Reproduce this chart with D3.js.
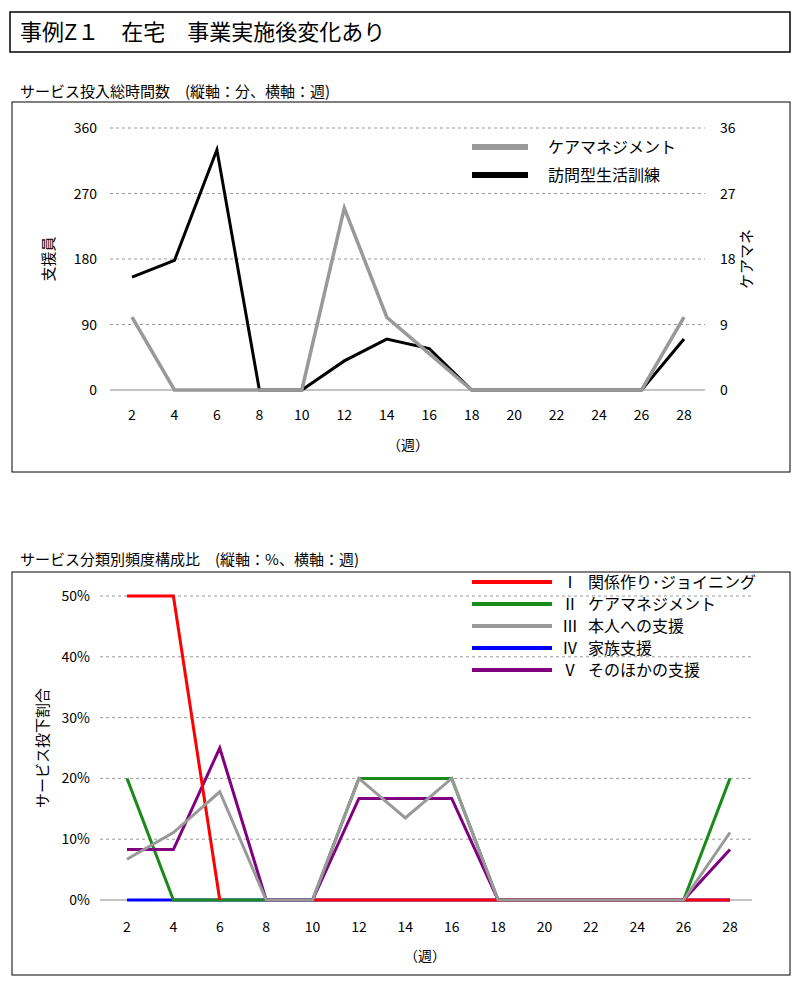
<!DOCTYPE html>
<html><head><meta charset="utf-8">
<script src="https://cdn.jsdelivr.net/npm/d3@7"></script>
<style>body{margin:0;background:#fff;font-family:"Noto Sans CJK JP",sans-serif;}</style>
</head><body>
<svg id="c" width="800" height="1000"></svg>
<script>
// data
const weeks = [2,4,6,8,10,12,14,16,18,20,22,24,26,28];
const careMgmt = [10,0,0,0,0,25,10,5,0,0,0,0,0,10];        // right axis (ケアマネ)
const lifeTraining = [155,178,330,0,0,40,70,57,0,0,0,0,0,70]; // left axis (支援員)
const leftTicks = [0,90,180,270,360];
const rightTicks = [0,9,18,27,36];

const catI = [50,50,0,null,0,0,0,0,0,0,0,0,0,0];
const catII = [20,0,0,0,0,20,20,20,0,0,0,0,0,20];
const catIII = [6.7,11.1,17.8,0,0,20,13.5,20,0,0,0,0,0,11.1];
const catIV = [0,0,0,0,0,0,0,0,0,0,0,0,0,0];
const catV = [8.3,8.3,25,0,0,16.7,16.7,16.7,0,0,0,0,0,8.3];
const pctTicks = [0,10,20,30,40,50];

const svg = d3.select("#c");
const font = "'Noto Sans CJK JP', sans-serif";

// title box
svg.append("rect").attr("x",10).attr("y",12).attr("width",780).attr("height",40)
  .attr("fill","none").attr("stroke","#000").attr("stroke-width",1.5);
svg.append("text").attr("x",20).attr("y",40).attr("font-size",22).attr("font-family",font)
  .text("事例Z１　在宅　事業実施後変化あり");

// ---------- top chart ----------
svg.append("text").attr("x",20).attr("y",97).attr("font-size",15).attr("font-family",font)
  .text("サービス投入総時間数　(縦軸：分、横軸：週)");
svg.append("rect").attr("x",12).attr("y",102).attr("width",778).attr("height",370)
  .attr("fill","none").attr("stroke","#000");

const x1 = d3.scaleLinear().domain([2,28]).range([132,684]);
const yL = d3.scaleLinear().domain([0,360]).range([390,128]);
const yR = d3.scaleLinear().domain([0,36]).range([390,128]);

const topG = svg.append("g");
topG.selectAll(".g1").data(leftTicks.slice(1)).enter().append("line")
  .attr("x1",110).attr("x2",705).attr("y1",d=>yL(d)).attr("y2",d=>yL(d))
  .attr("stroke","#999").attr("stroke-dasharray","3,3");
topG.append("line").attr("x1",110).attr("x2",705).attr("y1",yL(0)).attr("y2",yL(0)).attr("stroke","#888");
topG.selectAll(".tl").data(leftTicks).enter().append("text")
  .attr("x",97).attr("y",d=>yL(d)+5).attr("text-anchor","end").attr("font-size",14).attr("font-family",font).text(d=>d);
topG.selectAll(".tr").data(rightTicks).enter().append("text")
  .attr("x",720).attr("y",d=>yR(d)+5).attr("font-size",14).attr("font-family",font).text(d=>d);
topG.selectAll(".tx").data(weeks).enter().append("text")
  .attr("x",d=>x1(d)).attr("y",420).attr("text-anchor","middle").attr("font-size",14).attr("font-family",font).text(d=>d);
topG.append("text").attr("x",408).attr("y",450).attr("text-anchor","middle").attr("font-size",14).attr("font-family",font).text("（週）");
topG.append("text").attr("transform","translate(54,259) rotate(-90)").attr("text-anchor","middle")
  .attr("font-size",15).attr("font-family",font).text("支援員");
topG.append("text").attr("transform","translate(752,259) rotate(-90)").attr("text-anchor","middle")
  .attr("font-size",15).attr("font-family",font).text("ケアマネ");

const lineL = d3.line().x((d,i)=>x1(weeks[i])).y(d=>yL(d));
const lineR = d3.line().x((d,i)=>x1(weeks[i])).y(d=>yR(d));
topG.append("path").attr("d",lineL(lifeTraining)).attr("fill","none").attr("stroke","#000").attr("stroke-width",3);
topG.append("path").attr("d",lineR(careMgmt)).attr("fill","none").attr("stroke","#999").attr("stroke-width",3.5);

[["ケアマネジメント","#999",147],["訪問型生活訓練","#000",175]].forEach(([t,c,y])=>{
  topG.append("line").attr("x1",472).attr("x2",528).attr("y1",y).attr("y2",y).attr("stroke",c).attr("stroke-width",6);
  topG.append("text").attr("x",548).attr("y",y+6).attr("font-size",16).attr("font-family",font).text(t);
});

// ---------- bottom chart ----------
svg.append("text").attr("x",20).attr("y",565).attr("font-size",15).attr("font-family",font)
  .text("サービス分類別頻度構成比　(縦軸：%、横軸：週)");
svg.append("rect").attr("x",12).attr("y",572).attr("width",778).attr("height",403)
  .attr("fill","none").attr("stroke","#000");

const x2 = d3.scaleLinear().domain([2,28]).range([127,730]);
const y2 = d3.scaleLinear().domain([0,50]).range([900,596]);
const bot = svg.append("g");
bot.selectAll(".g2").data(pctTicks.slice(1)).enter().append("line")
  .attr("x1",100).attr("x2",752).attr("y1",d=>y2(d)).attr("y2",d=>y2(d))
  .attr("stroke","#999").attr("stroke-dasharray","3,3");
bot.append("line").attr("x1",100).attr("x2",752).attr("y1",y2(0)).attr("y2",y2(0)).attr("stroke","#888");
bot.selectAll(".ty").data(pctTicks).enter().append("text")
  .attr("x",90).attr("y",d=>y2(d)+5).attr("text-anchor","end").attr("font-size",14).attr("font-family",font).text(d=>d+"%");
bot.selectAll(".tx2").data(weeks).enter().append("text")
  .attr("x",d=>x2(d)).attr("y",932).attr("text-anchor","middle").attr("font-size",14).attr("font-family",font).text(d=>d);
bot.append("text").attr("x",425).attr("y",961).attr("text-anchor","middle").attr("font-size",14).attr("font-family",font).text("（週）");
bot.append("text").attr("transform","translate(48,748) rotate(-90)").attr("text-anchor","middle")
  .attr("font-size",15).attr("font-family",font).text("サービス投下割合");

const line2 = d3.line().defined(d=>d!==null).x((d,i)=>x2(weeks[i])).y(d=>y2(d));
const series = [
  {v:catIV,c:"#0000ff"},{v:catII,c:"#1a8a1a"},{v:catV,c:"#800080"},{v:catI,c:"#ff0000"},{v:catIII,c:"#999"}
];
series.forEach(s=>bot.append("path").attr("d",line2(s.v)).attr("fill","none").attr("stroke",s.c).attr("stroke-width",3));

const leg = [["Ⅰ","関係作り･ジョイニング","#ff0000"],["Ⅱ","ケアマネジメント","#1a8a1a"],["Ⅲ","本人への支援","#999"],
  ["Ⅳ","家族支援","#0000ff"],["Ⅴ","そのほかの支援","#800080"]];
leg.forEach(([n,t,c],i)=>{
  const y = 582 + i*22;
  bot.append("line").attr("x1",472).attr("x2",552).attr("y1",y).attr("y2",y).attr("stroke",c).attr("stroke-width",4);
  bot.append("text").attr("x",562).attr("y",y+6).attr("font-size",16).attr("font-family",font).text(n);
  bot.append("text").attr("x",588).attr("y",y+6).attr("font-size",16).attr("font-family",font).text(t);
});
</script>
</body></html>
